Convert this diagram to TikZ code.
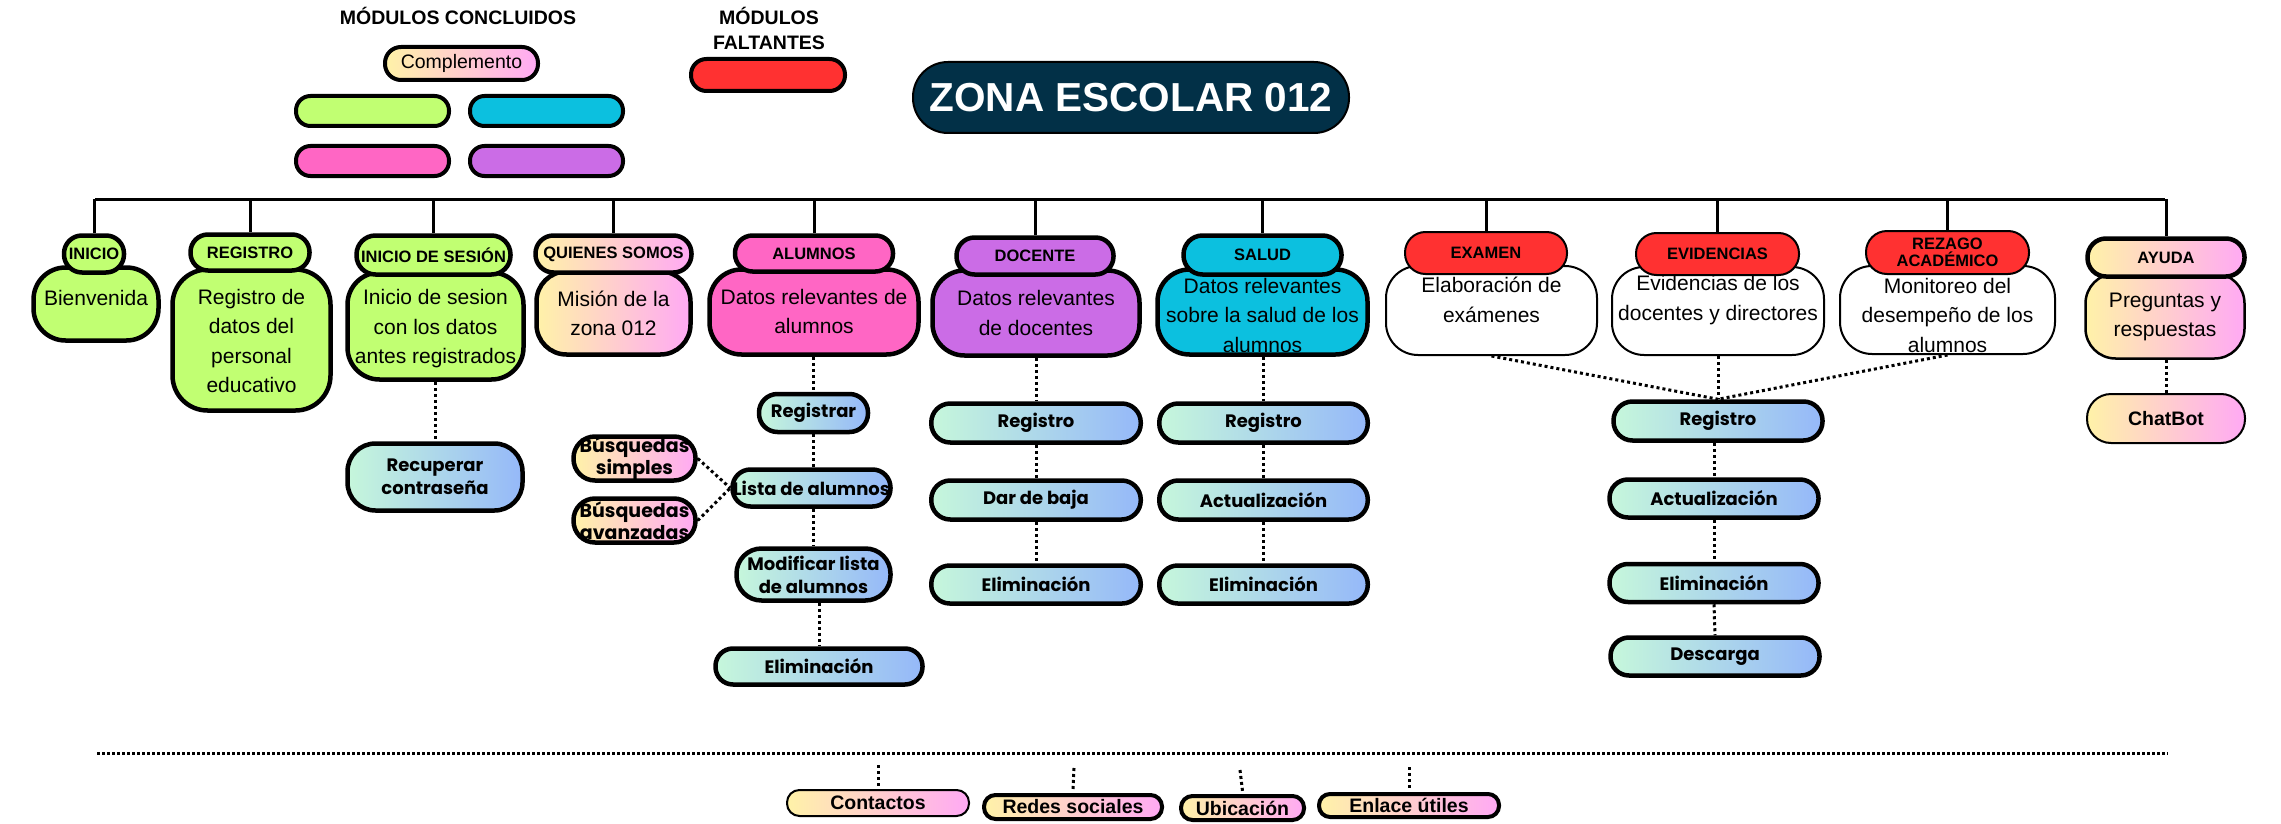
\documentclass[tikz,border=0pt]{standalone}
\usepackage{fontspec}
\setmainfont{Liberation Sans}
\newfontfamily\popfont{Poppins}
\definecolor{cLime}{HTML}{C1FF72}
\definecolor{cAqua}{HTML}{0CC0DF}
\definecolor{cRose}{HTML}{FF66C4}
\definecolor{cViolet}{HTML}{CB6CE6}
\definecolor{cRed}{HTML}{FF3131}
\definecolor{cNavy}{HTML}{023047}
\definecolor{cMint}{HTML}{C6F7DB}
\definecolor{cSky}{HTML}{95B8F9}
\definecolor{cCream}{HTML}{FFF2A8}
\definecolor{cCandy}{HTML}{FFA9F4}
\begin{document}
\begin{tikzpicture}[x=1pt,y=-1pt,
  box/.style={draw=black, line width=4.5pt, align=center, inner sep=0pt, text=black},
  thinbox/.style={box, line width=2pt},
  mintsky/.style={left color=cMint, right color=cSky},
  creamcandy/.style={left color=cCream, right color=cCandy},
  hdr/.style={font=\bfseries\fontsize{16.5}{19}\selectfont},
  lbl/.style={font=\bfseries\fontsize{19.5}{25}\selectfont, align=center, inner sep=0pt},
  btxt/.style={font=\fontsize{21}{29.5}\selectfont, align=center, inner sep=0pt},
  ptxt/.style={font=\popfont\bfseries\fontsize{18}{23}\selectfont},
  qtxt/.style={font=\popfont\bfseries\fontsize{19}{22}\selectfont},
  foot/.style={font=\bfseries\fontsize{19.5}{22}\selectfont},
  busline/.style={line width=3pt},
  dotline/.style={line width=3pt, dash pattern=on 3pt off 3pt},
]
\useasboundingbox (0,0) rectangle (2281,824);

% ---------- legend ----------
\node[lbl] (concl) at (458,16) {MÓDULOS CONCLUIDOS};
\node[lbl] (falt) at (769,28) {MÓDULOS\\FALTANTES};
\node[box, line width=4pt, creamcandy, minimum width=153, minimum height=33, rounded corners=16,
      font=\fontsize{19.5}{22}\selectfont] (compl) at (461.5,63.5) {Complemento};
\node[box, line width=4pt, fill=cLime,   minimum width=153, minimum height=30, rounded corners=14.5] (lgLime) at (372.5,111) {};
\node[box, line width=4pt, fill=cAqua,   minimum width=153, minimum height=30, rounded corners=14.5] (lgAqua) at (546.5,111) {};
\node[box, line width=4pt, fill=cRose,   minimum width=153, minimum height=30, rounded corners=14.5] (lgRose) at (372.5,161) {};
\node[box, line width=4pt, fill=cViolet, minimum width=153, minimum height=30, rounded corners=14.5] (lgViolet) at (546.5,161) {};
\node[box, line width=4pt, fill=cRed,    minimum width=154, minimum height=32, rounded corners=15.5] (lgRed) at (768,75) {};

% ---------- title ----------
\node[box, line width=2pt, fill=cNavy, text=white, minimum width=436, minimum height=71, rounded corners=35,
      font=\bfseries\fontsize{40.5}{46}\selectfont] (zona) at (1131,97.5) {ZONA ESCOLAR 012};

% ---------- main bus ----------
\coordinate (busL) at (95,199);
\coordinate (busR) at (2165,199);
\draw[busline] (busL) -- (busR);

% ---------- module bodies ----------
\node[box, fill=cLime, minimum width=125, minimum height=73, rounded corners=32] (inicioB) at (96,304) {};
\node[btxt] (inicioT) at (96,298) {Bienvenida};

\node[box, fill=cLime, minimum width=158, minimum height=141, rounded corners=35] (registroB) at (251.5,340) {};
\node[btxt] (registroT) at (251.5,341) {Registro de\\datos del\\personal\\educativo};

\node[box, fill=cLime, minimum width=176, minimum height=107, rounded corners=32] (sesionB) at (435.5,326) {};
\node[btxt] (sesionT) at (435.5,329) {Inicio de sesion\\con los datos\\antes registrados};

\node[box, creamcandy, minimum width=154, minimum height=83, rounded corners=30] (quienesB) at (613.5,313) {};
\node[btxt] (quienesT) at (613.5,313.5) {Misión de la\\zona 012};

\node[box, fill=cRose, minimum width=209, minimum height=85, rounded corners=32] (alumnosB) at (814,312) {};
\node[btxt] (alumnosT) at (814,311.5) {Datos relevantes de\\alumnos};

\node[box, fill=cViolet, minimum width=207, minimum height=85, rounded corners=32] (docenteB) at (1036,313) {};
\node[btxt] (docenteT) at (1036,313) {Datos relevantes\\de docentes};

\node[box, fill=cAqua, minimum width=210, minimum height=85, rounded corners=32] (saludB) at (1262.5,312) {};
\node[btxt] (saludT) at (1262.5,315) {Datos relevantes\\sobre la salud de los\\alumnos};

\node[thinbox, fill=white, minimum width=211, minimum height=89, rounded corners=32] (examenB) at (1491.5,310.5) {};
\node[btxt] (examenT) at (1491.5,300) {Elaboración de\\exámenes};

\node[thinbox, fill=white, minimum width=212, minimum height=88, rounded corners=32] (evidB) at (1718,311) {};
\node[btxt] (evidT) at (1718,300) {Evidencias de los\\docentes y directores};

\node[thinbox, fill=white, minimum width=215, minimum height=88, rounded corners=32] (rezagoB) at (1947.5,310) {};
\node[btxt] (rezagoT) at (1947.5,315) {Monitoreo del\\desempeño de los\\alumnos};

\node[box, line width=2.5pt, creamcandy, minimum width=159, minimum height=85, rounded corners=30] (ayudaB) at (2165,316) {};
\node[btxt] (ayudaT) at (2165,317) {Preguntas y\\respuestas};

% ---------- module headers ----------
\node[box, hdr, fill=cLime, minimum width=60, minimum height=37, rounded corners=18] (inicioH) at (94,254) {INICIO};
\node[box, hdr, fill=cLime, minimum width=119, minimum height=36, rounded corners=17.5] (registroH) at (250,252.5) {REGISTRO};
\node[box, hdr, fill=cLime, minimum width=154, minimum height=39, rounded corners=19] (sesionH) at (433.5,255) {INICIO DE SESIÓN};
\node[box, hdr, creamcandy, minimum width=156, minimum height=37, rounded corners=18] (quienesH) at (613.5,254) {QUIENES SOMOS};
\node[box, hdr, fill=cRose, minimum width=158, minimum height=36, rounded corners=17.5] (alumnosH) at (814,253.5) {ALUMNOS};
\node[box, hdr, fill=cViolet, minimum width=157, minimum height=37, rounded corners=18] (docenteH) at (1035,256) {DOCENTE};
\node[box, hdr, fill=cAqua, minimum width=158, minimum height=39, rounded corners=19] (saludH) at (1262.5,255) {SALUD};
\node[thinbox, hdr, fill=cRed, minimum width=162, minimum height=42, rounded corners=20.5] (examenH) at (1486,253) {EXAMEN};
\node[thinbox, hdr, fill=cRed, minimum width=163, minimum height=42, rounded corners=20.5] (evidH) at (1717.5,254) {EVIDENCIAS};
\node[thinbox, hdr, fill=cRed, minimum width=163, minimum height=43, rounded corners=21] (rezagoH) at (1947.5,252.5) {REZAGO\\[-2pt]ACADÉMICO};
\node[box, hdr, creamcandy, minimum width=157, minimum height=38, rounded corners=18.5] (ayudaH) at (2166,257.5) {AYUDA};

% drops from the bus
\foreach \h in {inicioH,registroH,sesionH,quienesH,alumnosH,docenteH,saludH,examenH,evidH,rezagoH,ayudaH}
  \draw[busline] (\h.north |- busL) -- (\h.north);

% ---------- inicio de sesion ----------
\node[box, mintsky, ptxt, minimum width=175, minimum height=67, rounded corners=28] (recuperar) at (435,477) {Recuperar\\contraseña};
\draw[dotline] (recuperar.north |- sesionB.south) -- (recuperar.north);

% ---------- alumnos ----------
\node[box, mintsky, ptxt, minimum width=109, minimum height=38, rounded corners=18.5] (alRegistrar) at (813.5,413) {Registrar};
\node[box, mintsky, ptxt, minimum width=158, minimum height=37, rounded corners=18] (alLista) at (811.5,488) {Lista de alumnos};
\node[box, mintsky, ptxt, minimum width=154, minimum height=52, rounded corners=25] (alModificar) at (813.5,574.5) {Modificar lista\\de alumnos};
\node[box, mintsky, ptxt, minimum width=207, minimum height=36, rounded corners=17.5] (alElim) at (819,666.5) {Eliminación};
\node[box, creamcandy, qtxt, minimum width=122, minimum height=44, rounded corners=21.5] (busqSimple) at (634.5,458.5) {Búsquedas\\simples};
\node[box, creamcandy, qtxt, minimum width=122, minimum height=44, rounded corners=21.5] (busqAvanz) at (634.5,520.5) {Búsquedas\\avanzadas};
\draw[dotline] (alRegistrar.north |- alumnosB.south) -- (alRegistrar.north);
\draw[dotline] (alRegistrar.south) -- (alRegistrar.south |- alLista.north);
\draw[dotline] (alRegistrar.south |- alLista.south) -- (alRegistrar.south |- alModificar.north);
\draw[dotline] (alElim.north |- alModificar.south) -- (alElim.north);
\draw[dotline] (busqSimple.east) -- (alLista.west);
\draw[dotline] (busqAvanz.east) -- (alLista.west);

% ---------- docente ----------
\node[box, mintsky, ptxt, minimum width=209.5, minimum height=39, rounded corners=19] (doReg) at (1036,423) {Registro};
\node[box, mintsky, ptxt, minimum width=209.5, minimum height=39, rounded corners=19] (doBaja) at (1036,500) {Dar de baja};
\node[box, mintsky, ptxt, minimum width=209.5, minimum height=38, rounded corners=18.5] (doElim) at (1036,584.5) {Eliminación};
\draw[dotline] (doReg.north |- docenteB.south) -- (doReg.north);
\draw[dotline] (doReg.south) -- (doBaja.north);
\draw[dotline] (doBaja.south) -- (doElim.north);

% ---------- salud ----------
\node[box, mintsky, ptxt, minimum width=208.5, minimum height=39, rounded corners=19] (saReg) at (1263.5,423) {Registro};
\node[box, mintsky, ptxt, minimum width=208.5, minimum height=39, rounded corners=19] (saAct) at (1263.5,500) {Actualización};
\node[box, mintsky, ptxt, minimum width=208.5, minimum height=38, rounded corners=18.5] (saElim) at (1263.5,584.5) {Eliminación};
\draw[dotline] (saReg.north |- saludB.south) -- (saReg.north);
\draw[dotline] (saReg.south) -- (saAct.north);
\draw[dotline] (saAct.south) -- (saElim.north);

% ---------- examen / evidencias / rezago ----------
\node[box, mintsky, ptxt, minimum width=209, minimum height=39, rounded corners=19] (evReg) at (1718,421) {Registro};
\node[box, mintsky, ptxt, minimum width=209, minimum height=38, rounded corners=18.5] (evAct) at (1714,498.5) {Actualización};
\node[box, mintsky, ptxt, minimum width=209, minimum height=38, rounded corners=18.5] (evElim) at (1714,583) {Eliminación};
\node[box, mintsky, ptxt, minimum width=209, minimum height=38, rounded corners=18.5] (evDesc) at (1715,656.5) {Descarga};
\draw[dotline] (examenB.south) -- (evReg.north);
\draw[dotline] (evidB.south) -- (evReg.north);
\draw[dotline] (rezagoB.south) -- (evReg.north);
\draw[dotline] (evAct.north |- evReg.south) -- (evAct.north);
\draw[dotline] (evAct.south) -- (evElim.north);
\draw[dotline] (evElim.south) -- (evDesc.north);

% ---------- ayuda ----------
\node[thinbox, creamcandy, font=\bfseries\fontsize{19.5}{22}\selectfont, minimum width=158, minimum height=49, rounded corners=24] (chatbot) at (2166,418.5) {ChatBot};
\draw[dotline] (chatbot.north |- ayudaB.south) -- (chatbot.north);

% ---------- footer ----------
\coordinate (footL) at (97,753);
\coordinate (footR) at (2168,753);
\draw[dotline, dash pattern=on 3pt off 2pt] (footL) -- (footR);

\node[thinbox, creamcandy, foot, minimum width=182, minimum height=26, rounded corners=12.5] (contactos) at (878,803) {Contactos};
\node[box, line width=4pt, creamcandy, foot, minimum width=178, minimum height=24, rounded corners=11.5] (redes) at (1073,807) {Redes sociales};
\node[box, line width=4pt, creamcandy, foot, minimum width=123, minimum height=24, rounded corners=11.5] (ubicacion) at (1242.5,808) {Ubicación};
\node[box, line width=4pt, creamcandy, foot, minimum width=180, minimum height=23, rounded corners=11] (enlace) at (1409,805.5) {Enlace útiles};

\coordinate (contactosTop) at (878,765);
\coordinate (redesTop) at (1074,768);
\coordinate (ubicacionTop) at (1240,770);
\coordinate (enlaceTop) at (1409,767);
\draw[dotline] (contactosTop) -- ([yshift=2pt]contactos.north);
\draw[dotline] (redesTop) -- ([yshift=3pt]redes.north);
\draw[dotline] (ubicacionTop) -- ([yshift=3pt]ubicacion.north);
\draw[dotline] (enlaceTop) -- ([yshift=3pt]enlace.north);
\end{tikzpicture}
\end{document}
